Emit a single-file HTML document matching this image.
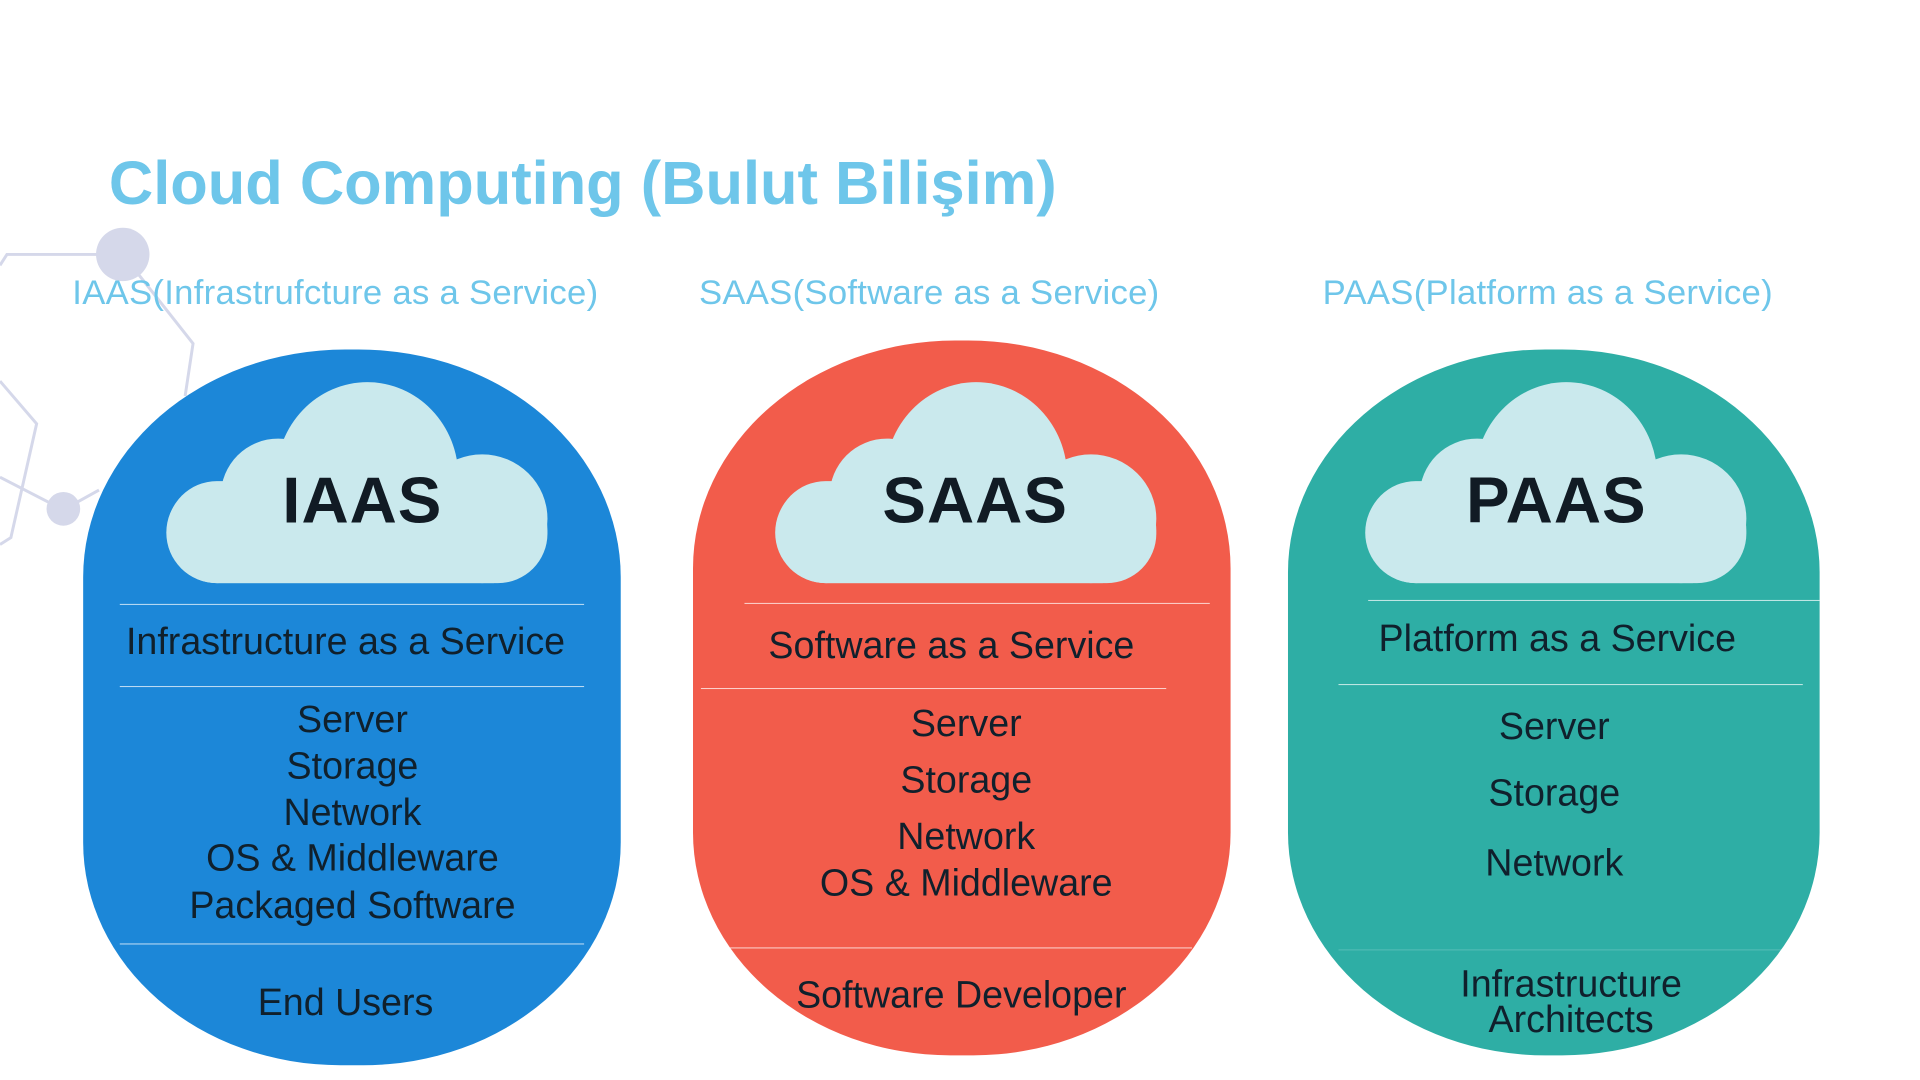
<!DOCTYPE html>
<html><head><meta charset="utf-8"><style>
html,body{margin:0;padding:0;background:#fff;}
body{width:1920px;height:1080px;position:relative;overflow:hidden;font-family:"Liberation Sans",sans-serif;}
#w{position:absolute;left:0;top:0;width:1920px;height:1080px;transform:scale(0.99);transform-origin:0 0;}
.t{position:absolute;white-space:nowrap;transform:translate(-50%,-50%);color:#10202c;font-size:38px;}
.h{position:absolute;white-space:nowrap;color:#6ec6ea;font-weight:bold;}
.s{position:absolute;white-space:nowrap;color:#6ec6ea;font-size:35px;letter-spacing:0.3px;}
.ln{position:absolute;height:1px;background:rgba(255,255,255,0.75);}
.pill{position:absolute;}
.big{position:absolute;transform:translate(-50%,-50%);font-weight:bold;font-size:66px;color:#111b24;letter-spacing:1px;}
</style></head><body><div id="w">
<svg width="1920" height="1080" style="position:absolute;left:0;top:0" xmlns="http://www.w3.org/2000/svg">
 <g stroke="#d5d8ea" stroke-width="3" fill="none">
  <polyline points="0,268 7,257 124,257 195,347 187,400"/>
  <polyline points="0,385 37,428 11,543 0,550"/>
  <polyline points="0,482 64,515 100,495"/>
 </g>
 <circle cx="124" cy="257" r="27" fill="#d5d8ea"/>
 <circle cx="64" cy="514" r="17" fill="#d5d8ea"/>
</svg>
<div class="h" style="left:110px;top:150px;font-size:62px;">Cloud Computing (Bulut Bilişim)</div>
<div class="s" style="left:73px;top:276px;">IAAS(Infrastrufcture as a Service)</div>
<div class="s" style="left:706px;top:276px;">SAAS(Software as a Service)</div>
<div class="s" style="left:1336px;top:276px;">PAAS(Platform as a Service)</div>

<div class="pill" style="left:84px;top:353px;width:543px;height:723px;background:#1c87d8;border-radius:265px 265px 260px 260px / 230px 230px 225px 225px;"></div>
<div class="pill" style="left:700px;top:344px;width:543px;height:722px;background:#f25c4b;border-radius:265px 265px 260px 260px / 230px 230px 225px 225px;"></div>
<div class="pill" style="left:1301px;top:353px;width:537px;height:713px;background:#2eaea5;border-radius:260px 260px 260px 260px / 225px 225px 225px 225px;"></div>

<svg width="1920" height="1080" style="position:absolute;left:0;top:0" xmlns="http://www.w3.org/2000/svg">
 <defs>
  <g id="cl" fill="#cae9ed">
   <rect x="0" y="100" width="384" height="103" rx="50"/>
   <circle cx="50" cy="152" r="51"/>
   <circle cx="112" cy="115" r="58"/>
   <ellipse cx="202" cy="96" rx="92" ry="96"/>
   <ellipse cx="318" cy="138" rx="66" ry="65"/>
   <rect x="50" y="110" width="280" height="93"/>
  </g>
 </defs>
 <use href="#cl" x="169" y="386"/>
 <use href="#cl" x="784" y="386"/>
 <use href="#cl" x="1380" y="386"/>
</svg>
<div class="big" style="left:366px;top:505px;">IAAS</div>
<div class="big" style="left:985px;top:505px;">SAAS</div>
<div class="big" style="left:1572px;top:505px;">PAAS</div>

<!-- IAAS -->
<div class="ln" style="left:121px;top:610px;width:469px;"></div>
<div class="t" style="left:349px;top:649px;">Infrastructure as a Service</div>
<div class="ln" style="left:121px;top:693px;width:469px;"></div>
<div class="t" style="left:356px;top:728px;">Server</div>
<div class="t" style="left:356px;top:775px;">Storage</div>
<div class="t" style="left:356px;top:822px;">Network</div>
<div class="t" style="left:356px;top:868px;">OS &amp; Middleware</div>
<div class="t" style="left:356px;top:916px;">Packaged Software</div>
<div class="ln" style="left:121px;top:953px;width:469px;"></div>
<div class="t" style="left:349px;top:1014px;">End Users</div>

<!-- SAAS -->
<div class="ln" style="left:752px;top:609px;width:470px;"></div>
<div class="t" style="left:961px;top:653px;">Software as a Service</div>
<div class="ln" style="left:708px;top:695px;width:470px;"></div>
<div class="t" style="left:976px;top:732px;">Server</div>
<div class="t" style="left:976px;top:789px;">Storage</div>
<div class="t" style="left:976px;top:846px;">Network</div>
<div class="t" style="left:976px;top:893px;">OS &amp; Middleware</div>
<div class="ln" style="left:735px;top:957px;width:469px;"></div>
<div class="t" style="left:971px;top:1006px;">Software Developer</div>

<!-- PAAS -->
<div class="ln" style="left:1382px;top:606px;width:456px;"></div>
<div class="t" style="left:1573px;top:646px;">Platform as a Service</div>
<div class="ln" style="left:1352px;top:691px;width:469px;"></div>
<div class="t" style="left:1570px;top:735px;">Server</div>
<div class="t" style="left:1570px;top:802px;">Storage</div>
<div class="t" style="left:1570px;top:873px;">Network</div>
<div class="ln" style="left:1352px;top:959px;width:460px;background:rgba(255,255,255,0.2);"></div>
<div class="t" style="left:1587px;top:995px;">Infrastructure</div>
<div class="t" style="left:1587px;top:1031px;">Architects</div>
</div></body></html>
